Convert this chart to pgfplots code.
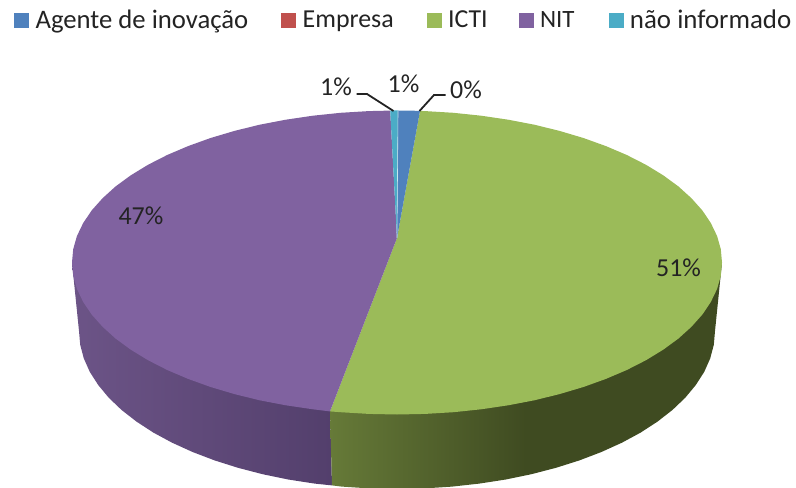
\documentclass[border=0pt]{standalone}
\usepackage{fontspec}
\setmainfont{Carlito}
\usepackage{pgfplots}
\pgfplotsset{compat=1.18}

\definecolor{blue1}{RGB}{79,129,189}
\definecolor{red1}{RGB}{192,80,77}
\definecolor{green1}{RGB}{155,187,89}
\definecolor{purple1}{RGB}{128,98,160}
\definecolor{cyan1}{RGB}{75,172,198}
\definecolor{ink}{RGB}{35,35,35}
\definecolor{purpleA}{RGB}{108,84,135}
\definecolor{purpleB}{RGB}{83,63,108}
\definecolor{greenA}{RGB}{102,122,56}
\definecolor{greenB}{RGB}{63,75,33}

% side walls of the pie
\pgfdeclarehorizontalshading{purpleside}{100bp}{
  color(0bp)=(purpleA);
  color(25bp)=(purpleA);
  color(75bp)=(purpleB);
  color(100bp)=(purpleB)}
\pgfdeclarehorizontalshading{greenside}{100bp}{
  color(0bp)=(greenA);
  color(25bp)=(greenA);
  color(50bp)=(greenB);
  color(100bp)=(greenB)}

\begin{document}
\begin{tikzpicture}
\useasboundingbox (0,0) rectangle (796bp,488bp);
\begin{axis}[
    at={(0,0)}, anchor=south west,
    hide axis,
    scale only axis,
    width=796bp, height=488bp,
    xmin=0, xmax=796,
    ymin=0, ymax=488,
    y dir=reverse,
    legend columns=5,
    legend cell align=left,
    legend style={
      at={(axis cs:14,8)}, anchor=north west,
      draw=none, fill=none, inner sep=0pt,
      font=\fontsize{26}{30}\selectfont\color{ink},
      /tikz/every odd column/.style={column sep=5bp},
      /tikz/column 2/.style={column sep=31bp},
      /tikz/column 4/.style={column sep=31bp},
      /tikz/column 6/.style={column sep=29bp},
      /tikz/column 8/.style={column sep=32bp},
      /tikz/column 9/.style={column sep=7bp},
    },
    legend image code/.code={
      \fill[#1] (0bp,-7bp) rectangle (14bp,7bp);
    },
  ]

  % legend keys (Empresa has no visible slice, it is 0%)
  \addlegendimage{blue1}
  \addlegendimage{red1}
  \addlegendimage{green1}
  \addlegendimage{purple1}
  \addlegendimage{cyan1}

  % side, purple
  \addplot[shading=purpleside, draw=none, forget plot] coordinates {
    (72,262.5)(79,331)(80.2,344.8)(83.8,358.4)(89.8,371.9)(98.2,385)
    (108.8,397.8)(121.6,410)(136.5,421.6)(153.4,432.6)(172.1,442.7)
    (192.6,452)(214.6,460.4)(238,467.8)(262.6,474.2)(288.2,479.5)
    (314.7,483.6)(332,485.4)(330,411)(200,300)};

  % side, green
  \addplot[shading=greenside, draw=none, forget plot] coordinates {
    (330,411)(332,485.4)(341.8,486.6)(369.3,488.4)(397,489)(424.7,488.4)
    (452.2,486.6)(479.3,483.6)(505.8,479.5)(531.4,474.2)(556,467.8)
    (579.4,460.4)(601.4,452)(621.9,442.7)(640.6,432.6)(657.5,421.6)
    (672.4,410)(685.2,397.8)(695.8,385)(704.2,371.9)(710.2,358.4)
    (713.8,344.8)(715,331)(722,262.5)(600,300)};

  % top, ICTI
  \addplot[fill=green1, draw=none, forget plot] coordinates {
    (397,238)(420,110.9)(425.3,111.1)(453.4,112.8)(481.1,115.7)(508.2,119.7)
    (534.3,124.7)(559.5,130.9)(583.4,138)(605.9,146.1)(626.8,155)(646,164.8)
    (663.2,175.3)(678.5,186.5)(691.5,198.3)(702.4,210.5)(710.9,223.2)
    (717.1,236.1)(720.8,249.2)(722,262.5)(720.8,275.8)(717.1,288.9)
    (710.9,301.8)(702.4,314.5)(691.5,326.7)(678.5,338.5)(663.2,349.7)
    (646,360.2)(626.8,370)(605.9,378.9)(583.4,387)(559.5,394.1)(534.3,400.3)
    (508.2,405.3)(481.1,409.3)(453.4,412.2)(425.3,413.9)(397,414.5)
    (368.7,413.9)(340.6,412.2)(330,411.4)};

  % top, NIT
  \addplot[fill=purple1, draw=none, forget plot] coordinates {
    (397,238)(330,411.4)(312.9,409.3)(285.8,405.3)(259.7,400.3)(234.5,394.1)
    (210.6,387)(188.1,378.9)(167.2,370)(148,360.2)(130.8,349.7)(115.5,338.5)
    (102.5,326.7)(91.6,314.5)(83.1,301.8)(76.9,288.9)(73.2,275.8)(72,262.5)
    (73.2,249.2)(76.9,236.1)(83.1,223.2)(91.6,210.5)(102.5,198.3)(115.5,186.5)
    (130.8,175.3)(148,164.8)(167.2,155)(188.1,146.1)(210.6,138)(234.5,130.9)
    (259.7,124.7)(285.8,119.7)(312.9,115.7)(340.6,112.8)(368.7,111.1)(390.2,110.6)};

  % top, nao informado
  \addplot[fill=cyan1, draw=none, forget plot] coordinates {
    (397,238)(390.2,110.6)(394,110.5)(398,110.5)};

  % top, Agente de inovacao
  \addplot[fill=blue1, draw=none, forget plot] coordinates {
    (397,238)(398,110.5)(409,110.6)(420,110.9)};

  % thin light edge between the two small slices
  \addplot[color=white!70!cyan1, line width=0.6bp, forget plot] coordinates {
    (397,238)(398,110.5)};

  % leader lines
  \addplot[color=ink, line width=1.8bp, forget plot] coordinates {
    (356.5,94)(367,94)(393.5,111)};
  \addplot[color=ink, line width=1.8bp, forget plot] coordinates {
    (419.5,111)(434,95)(445.5,95)};

  \legend{{\fontsize{26.8}{30}\selectfont Agente de inovação}, Empresa, ICTI,
    {\fontsize{25}{30}\selectfont NIT}, {\fontsize{27}{30}\selectfont não informado}}

  \tikzset{lbl/.style={font=\fontsize{26}{30}\selectfont, text=ink, inner sep=0pt}}
  \node[lbl] at (axis cs:336,87) {1\%};
  \node[lbl] at (axis cs:403.5,84) {1\%};
  \node[lbl] at (axis cs:466,90) {0\%};
  \node[lbl] at (axis cs:141,216) {47\%};
  \node[lbl] at (axis cs:678.5,268) {51\%};
\end{axis}
\end{tikzpicture}
\end{document}
